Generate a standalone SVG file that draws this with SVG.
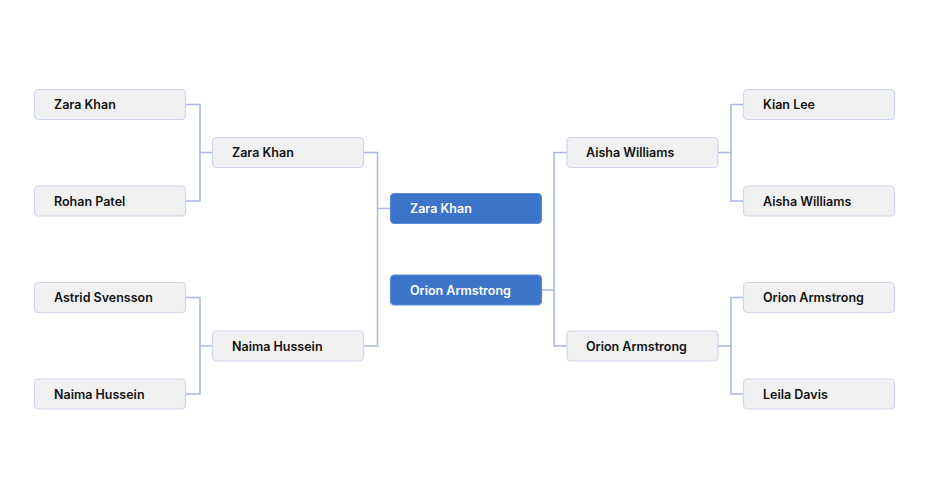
<svg xmlns="http://www.w3.org/2000/svg" width="930" height="500" viewBox="0 0 930 500">
<style>
.n rect{fill:#f1f1f2;stroke:#cdd6ec;stroke-width:1.2}
.n text{font-family:Inter,"Noto Sans",sans-serif;font-size:12.5px;font-weight:600;fill:#111111;dominant-baseline:central}
.w rect{fill:#3b74c9;stroke:#5a8ad6}
.w text{fill:#ffffff}
.c path{fill:none;stroke:#a6b8e0;stroke-width:1.5}
</style>
<rect width="930" height="500" fill="#ffffff"/>
<g class="c">
<path d="M186 104.5H200V201H186M200 152.5H213"/>
<path d="M186 297.5H200V394H186M200 346H213"/>
<path d="M364 152.5H377.5V346H364M377.5 208.5H390"/>
<path d="M743 104.5H731V201H743M731 152.5H718"/>
<path d="M743 297.5H731V394H743M731 346H718"/>
<path d="M567 152.5H554V346H567M554 290H542"/>
</g>
<g id="n1" class="n"><rect x="34.5" y="89.5" width="151" height="30" rx="4"/><text x="54" y="104.5">Zara Khan</text></g>
<g id="n2" class="n"><rect x="34.5" y="186" width="151" height="30" rx="4"/><text x="54" y="201">Rohan Patel</text></g>
<g id="n3" class="n"><rect x="34.5" y="282.5" width="151" height="30" rx="4"/><text x="54" y="297.5">Astrid Svensson</text></g>
<g id="n4" class="n"><rect x="34.5" y="379" width="151" height="30" rx="4"/><text x="54" y="394">Naima Hussein</text></g>
<g id="n5" class="n"><rect x="212.5" y="137.5" width="151" height="30" rx="4"/><text x="232" y="152.5">Zara Khan</text></g>
<g id="n6" class="n"><rect x="212.5" y="331" width="151" height="30" rx="4"/><text x="232" y="346">Naima Hussein</text></g>
<g id="n7" class="n w"><rect x="390.5" y="193.5" width="151" height="30" rx="4"/><text x="410" y="208.5">Zara Khan</text></g>
<g id="n8" class="n w"><rect x="390.5" y="275" width="151" height="30" rx="4"/><text x="410" y="290">Orion Armstrong</text></g>
<g id="n9" class="n"><rect x="567" y="137.5" width="151" height="30" rx="4"/><text x="586" y="152.5">Aisha Williams</text></g>
<g id="n10" class="n"><rect x="567" y="331" width="151" height="30" rx="4"/><text x="586" y="346">Orion Armstrong</text></g>
<g id="n11" class="n"><rect x="743.5" y="89.5" width="151" height="30" rx="4"/><text x="763" y="104.5">Kian Lee</text></g>
<g id="n12" class="n"><rect x="743.5" y="186" width="151" height="30" rx="4"/><text x="763" y="201">Aisha Williams</text></g>
<g id="n13" class="n"><rect x="743.5" y="282.5" width="151" height="30" rx="4"/><text x="763" y="297.5">Orion Armstrong</text></g>
<g id="n14" class="n"><rect x="743.5" y="379" width="151" height="30" rx="4"/><text x="763" y="394">Leila Davis</text></g>
</svg>
